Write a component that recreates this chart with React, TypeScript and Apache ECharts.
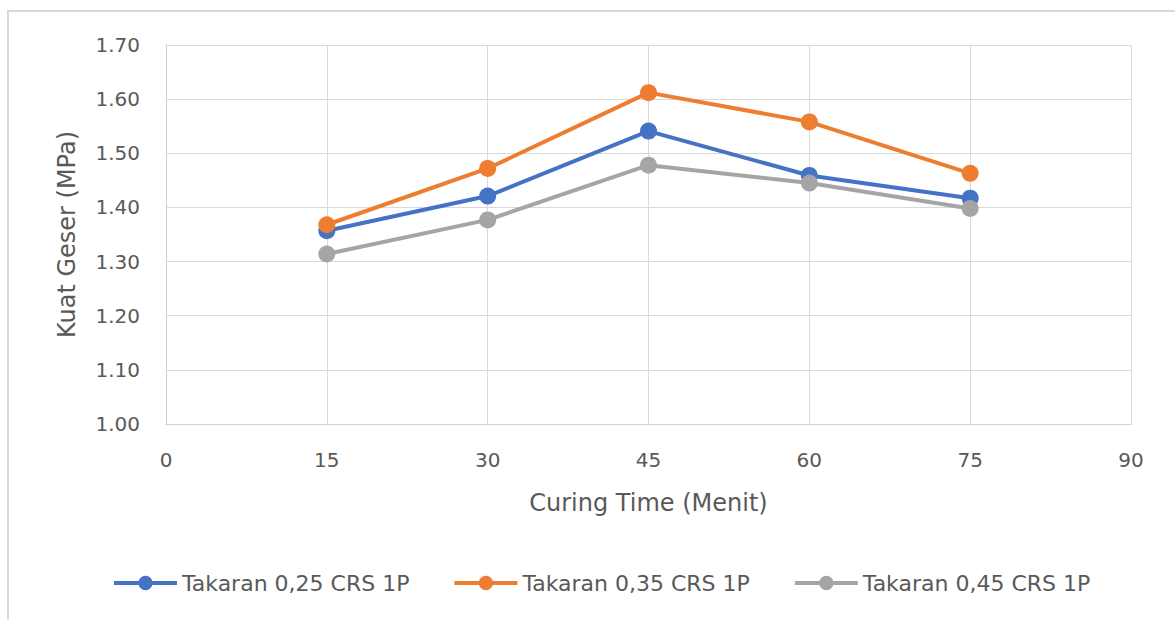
import React, { useEffect, useRef } from "react";
import * as echarts from "echarts";

const curingTimes = [15, 30, 45, 60, 75];
const seriesNames = ["Takaran 0,25 CRS 1P", "Takaran 0,35 CRS 1P", "Takaran 0,45 CRS 1P"];
const takaran025 = [1.357, 1.421, 1.541, 1.459, 1.417];
const takaran035 = [1.368, 1.472, 1.612, 1.558, 1.463];
const takaran045 = [1.314, 1.377, 1.478, 1.445, 1.398];
const seriesColors = ["#4472C4", "#ED7D31", "#A5A5A5"];

const FONT = "DejaVu Sans";

export default function App() {
  const ref = useRef<HTMLDivElement>(null);
  useEffect(() => {
    if (!ref.current) return;
    const chart = echarts.init(ref.current, undefined, { renderer: "svg" });
    const allValues = [takaran025, takaran035, takaran045];
    chart.setOption({
      animation: false,
      backgroundColor: "#ffffff",
      graphic: [
        {
          type: "rect",
          shape: { x: 8, y: 11, width: 1400, height: 900 },
          style: { fill: "none", stroke: "#d9d9d9", lineWidth: 2 },
          silent: true,
        },
      ],
      grid: { left: 166, right: 44, top: 45, bottom: 196, containLabel: false },
      xAxis: {
        type: "value",
        min: 0,
        max: 90,
        interval: 15,
        name: "Curing Time (Menit)",
        nameLocation: "middle",
        nameGap: 67,
        nameTextStyle: { fontFamily: FONT, fontSize: 24, color: "#595959" },
        axisLine: { show: true, lineStyle: { color: "#d0d0d0", width: 1 } },
        axisTick: { show: false },
        axisLabel: { fontFamily: FONT, fontSize: 20, color: "#595959", margin: 26 },
        splitLine: { show: true, lineStyle: { color: "#d9d9d9", width: 1 } },
      },
      yAxis: {
        type: "value",
        min: 1.0,
        max: 1.7,
        interval: 0.1,
        name: "Kuat Geser (MPa)",
        nameLocation: "middle",
        nameGap: 87,
        nameTextStyle: { fontFamily: FONT, fontSize: 24, color: "#595959" },
        axisLine: { show: true, lineStyle: { color: "#d0d0d0", width: 1 } },
        axisTick: { show: false },
        axisLabel: {
          fontFamily: FONT,
          fontSize: 20,
          color: "#595959",
          margin: 26,
          formatter: (v: number) => v.toFixed(2),
        },
        splitLine: { show: true, lineStyle: { color: "#d9d9d9", width: 1 } },
      },
      legend: {
        left: 107,
        top: 567,
        itemWidth: 63,
        itemHeight: 18,
        itemGap: 43,
        lineStyle: { width: 4 },
        textStyle: { fontFamily: FONT, fontSize: 22, color: "#595959" },
        data: seriesNames,
      },
      series: seriesNames.map((name, i) => ({
        name,
        type: "line",
        data: curingTimes.map((t, j) => [t, allValues[i][j]]),
        symbol: "circle",
        symbolSize: 17,
        lineStyle: { color: seriesColors[i], width: 4 },
        itemStyle: { color: seriesColors[i] },
        z: 2 + i,
      })),
    });
    return () => chart.dispose();
  }, []);
  return (
    <div
      ref={ref}
      style={{ position: "absolute", left: 0, top: 0, width: 1175, height: 620 }}
    />
  );
}
